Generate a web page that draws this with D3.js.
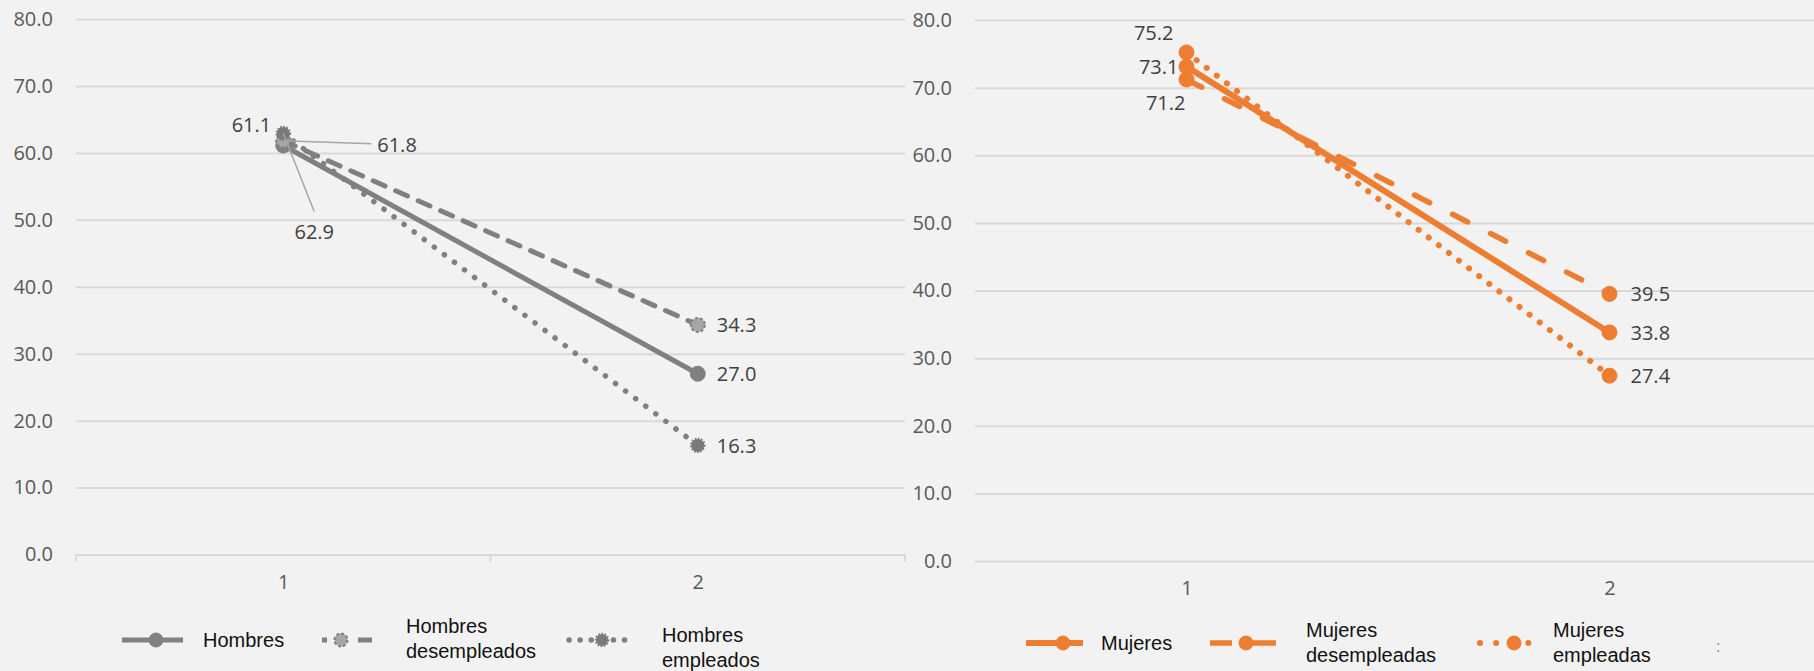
<!DOCTYPE html>
<html>
<head>
<meta charset="utf-8">
<script src="https://cdn.jsdelivr.net/npm/d3@7"></script>
<style>
  html, body { margin: 0; padding: 0; background: #f2f2f2; }
  svg { display: block; }
</style>
</head>
<body>
<svg id="chart" width="1814" height="671"></svg>
<script>
// ---------- data ----------
const categories = [1, 2];
const yTicks = [0, 10, 20, 30, 40, 50, 60, 70, 80];

const hombres = [61.1, 27.0];
const hombresDesempleados = [61.8, 34.3];
const hombresEmpleados = [62.9, 16.3];

const mujeres = [73.1, 33.8];
const mujeresDesempleadas = [71.2, 39.5];
const mujeresEmpleadas = [75.2, 27.4];

const seriesNamesLeft = ["Hombres", ["Hombres", "desempleados"], ["Hombres", "empleados"]];
const seriesNamesRight = ["Mujeres", ["Mujeres", "desempleadas"], ["Mujeres", "empleadas"]];

// ---------- setup ----------
const svg = d3.select("#chart");
svg.append("rect").attr("width", 1814).attr("height", 671).attr("fill", "#f2f2f2");

const GRID = "#d9d9d9";
const AXTXT = "#595959";
const LBL = "#404040";
const GRAY = "#808080";
const ORANGE = "#ED7D31";

function panel(cfg) {
  const g = svg.append("g");
  const x = d3.scalePoint().domain(categories).range([cfg.x0, cfg.x1]).padding(0.5);
  const xb = d3.scaleBand().domain(categories).range([cfg.x0, cfg.x1]);
  const y = d3.scaleLinear().domain([0, 80]).range([cfg.y0, cfg.y80]);

  // gridlines + y labels
  const yAxis = d3.axisLeft(y).tickValues(yTicks).tickFormat(d3.format(".1f"))
    .tickSize(-(cfg.x1 - cfg.x0)).tickPadding(23);
  const ya = g.append("g").attr("transform", `translate(${cfg.x0},0)`).call(yAxis);
  ya.select(".domain").remove();
  ya.selectAll(".tick line").attr("stroke", GRID).attr("stroke-width", 2);
  ya.selectAll(".tick text").attr("fill", AXTXT)
    .style("font-family", "'Open Sans', sans-serif").style("font-size", "20px");

  // x axis
  const xAxis = d3.axisBottom(x).tickSize(0).tickPadding(20);
  const xa = g.append("g").attr("transform", `translate(0,${cfg.y0})`).call(xAxis);
  xa.select(".domain").remove();
  xa.selectAll(".tick text").attr("fill", AXTXT)
    .style("font-family", "'Open Sans', sans-serif").style("font-size", "20px");
  if (cfg.ticks) {
    const edges = categories.map(c => xb(c)).concat([cfg.x1]);
    g.selectAll(".xedge").data(edges).enter().append("line")
      .attr("x1", d => d).attr("x2", d => d)
      .attr("y1", cfg.y0).attr("y2", cfg.y0 + 7)
      .attr("stroke", GRID).attr("stroke-width", 2);
  }

  const line = d3.line().x((d, i) => x(categories[i])).y(d => y(d));

  // lines
  cfg.series.forEach(s => {
    g.append("path").datum(s.values).attr("d", line)
      .attr("fill", "none").attr("stroke", s.color).attr("stroke-width", s.w)
      .attr("stroke-linecap", "round")
      .attr("stroke-dasharray", s.dash);
  });
  // markers
  cfg.series.forEach(s => {
    g.selectAll(null).data(s.values).enter().append("circle")
      .attr("cx", (d, i) => x(categories[i])).attr("cy", d => y(d))
      .attr("r", s.r).attr("fill", s.fill)
      .attr("stroke", s.mstroke).attr("stroke-width", s.msw)
      .attr("stroke-dasharray", s.mdash);
  });

  // leader lines
  (cfg.leaders || []).forEach(l => {
    const sv = cfg.series[l.s];
    g.append("line")
      .attr("x1", x(categories[0])).attr("y1", y(sv.values[0]))
      .attr("x2", x(categories[0]) + l.dx).attr("y2", y(sv.values[0]) + l.dy)
      .attr("stroke", "#a6a6a6").attr("stroke-width", 1.5);
  });

  // data labels
  cfg.series.forEach(s => {
    s.values.forEach((v, i) => {
      const off = s.labelOff[i];
      g.append("text")
        .attr("x", x(categories[i]) + off[0])
        .attr("y", y(v) + off[1])
        .attr("text-anchor", off[2])
        .attr("dominant-baseline", "central")
        .attr("fill", LBL)
        .style("font-family", "'Open Sans', sans-serif").style("font-size", "20px")
        .text(d3.format(".1f")(v));
    });
  });

  // legend
  const lg = g.append("g");
  cfg.legend.forEach((it, k) => {
    const s = cfg.series[k];
    lg.append("line")
      .attr("x1", it.lx0).attr("x2", it.lx1).attr("y1", it.ly).attr("y2", it.ly)
      .attr("stroke", s.color).attr("stroke-width", s.w)
      .attr("stroke-linecap", it.cap || "butt")
      .attr("stroke-dasharray", it.dash);
    lg.append("circle").attr("cx", it.mx).attr("cy", it.ly).attr("r", s.r - 0.5)
      .attr("fill", s.fill).attr("stroke", s.mstroke).attr("stroke-width", s.msw)
      .attr("stroke-dasharray", s.mdash);
    const names = Array.isArray(s.name) ? s.name : [s.name];
    const t = lg.append("text").attr("fill", "#111")
      .style("font-family", "'Liberation Sans', Arial, sans-serif").style("font-size", "20px");
    names.forEach((n, j) => {
      t.append("tspan").attr("x", it.tx).attr("y", it.ty + j * 25).text(n);
    });
  });
}

// ---------- left panel ----------
panel({
  x0: 76, x1: 905, y0: 554.5, y80: 19, ticks: true,
  series: [
    { name: seriesNamesLeft[0], values: hombres, color: GRAY, w: 5, dash: null,
      r: 7.5, fill: GRAY, mstroke: GRAY, msw: 1, mdash: null,
      labelOff: [[-12, -21, "end"], [19, 0, "start"]] },
    { name: seriesNamesLeft[1], values: hombresDesempleados, color: GRAY, w: 5, dash: "13,11.6",
      r: 7, fill: "#a6a6a6", mstroke: "#808080", msw: 2, mdash: "3,2",
      labelOff: [[94, 4, "start"], [19, 0, "start"]] },
    { name: seriesNamesLeft[2], values: hombresEmpleados, color: GRAY, w: 5.5, dash: "0.1,12.5",
      r: 6.5, fill: "#7a7a7a", mstroke: "#7a7a7a", msw: 2.5, mdash: "1.5,1.5",
      labelOff: [[31, 98, "middle"], [19, 0, "start"]] }
  ],
  leaders: [{ s: 1, dx: 88, dy: 3 }, { s: 2, dx: 31, dy: 78 }],
  legend: [
    { lx0: 122, lx1: 183, ly: 640, mx: 156, tx: 203, ty: 647, dash: null },
    { lx0: 322, lx1: 372, ly: 640, mx: 341, tx: 406, ty: 633, dash: "5,31,20" },
    { lx0: 569, lx1: 630, ly: 640, mx: 602, tx: 662, ty: 642, dash: "0.1,11", cap: "round" }
  ]
});

// ---------- right panel ----------
panel({
  x0: 975, x1: 1821, y0: 561, y80: 20, ticks: false,
  series: [
    { name: seriesNamesRight[0], values: mujeres, color: ORANGE, w: 6, dash: null,
      r: 7.5, fill: ORANGE, mstroke: ORANGE, msw: 1, mdash: null,
      labelOff: [[-8, 0, "end"], [21, 0, "start"]] },
    { name: seriesNamesRight[1], values: mujeresDesempleadas, color: ORANGE, w: 5.5, dash: "17,25.6",
      r: 7.5, fill: ORANGE, mstroke: ORANGE, msw: 1, mdash: null,
      labelOff: [[-1, 23, "end"], [21, 0, "start"]] },
    { name: seriesNamesRight[2], values: mujeresEmpleadas, color: ORANGE, w: 6, dash: "0.1,12.6",
      r: 7.5, fill: ORANGE, mstroke: ORANGE, msw: 1, mdash: null,
      labelOff: [[-13, -20, "end"], [21, 0, "start"]] }
  ],
  leaders: [],
  legend: [
    { lx0: 1026, lx1: 1083, ly: 643, mx: 1063, tx: 1101, ty: 650, dash: null },
    { lx0: 1210, lx1: 1276, ly: 643, mx: 1246, tx: 1306, ty: 637, dash: "22,12,40" },
    { lx0: 1480, lx1: 1530, ly: 643, mx: 1514, tx: 1553, ty: 637, dash: "0.1,16", cap: "round" }
  ]
});

// stray colon at the far right of the right legend
svg.append("text").attr("x", 1716).attr("y", 652).attr("fill", "#808080")
  .style("font-family", "'Liberation Sans', Arial, sans-serif").style("font-size", "16px")
  .text(":");
</script>
</body>
</html>
